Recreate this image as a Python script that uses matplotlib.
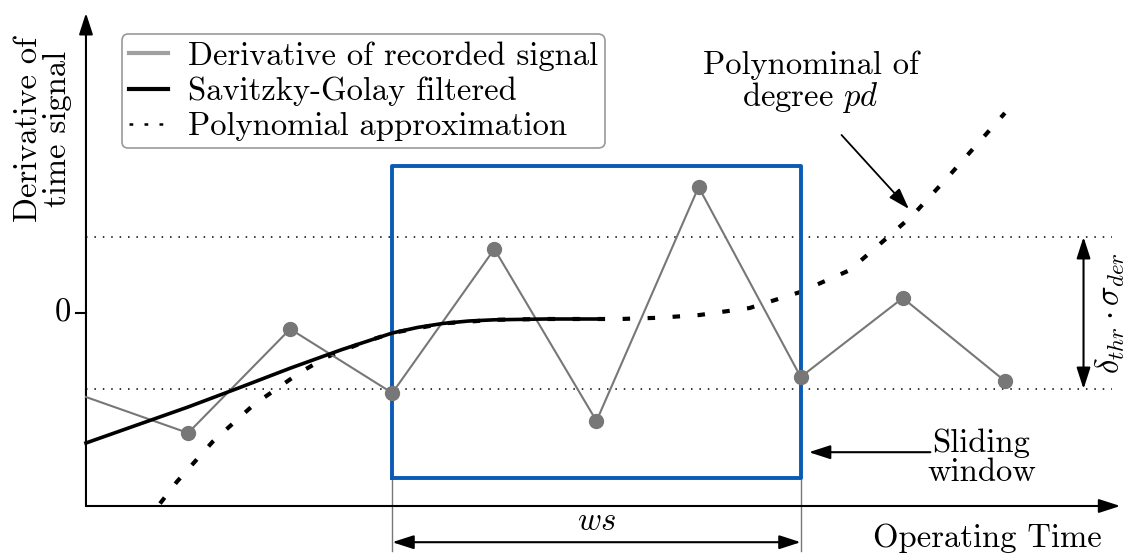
import matplotlib.pyplot as plt
import numpy as np
from matplotlib.lines import Line2D
from matplotlib.patches import Rectangle

plt.rcParams['font.family'] = ['cmr10', 'DejaVu Serif']
plt.rcParams['mathtext.fontset'] = 'cm'
plt.rcParams['axes.unicode_minus'] = False

# recorded derivative samples (time step, value)
sample_t = [0, 1, 2, 3, 4, 5, 6, 7, 8, 9]
sample_y = [-2.1, -3.0, -0.4, -2.0, 1.6, -2.7, 3.15, -1.6, 0.375, -1.7]

# Savitzky-Golay filtered curve
sg_t = [0.0, 0.5, 1.0, 1.5, 2.0, 2.5, 3.0, 3.25, 3.5, 3.75, 4.0, 4.5, 5.0]
sg_y = [-3.25, -2.8, -2.35, -1.87, -1.38, -0.92, -0.5, -0.36, -0.26, -0.2, -0.17, -0.15, -0.15]

# polynomial approximation
poly_t = [0.6, 0.705, 0.89, 1.24, 1.64, 2.10, 2.36, 2.7, 3.0, 3.5, 4.0, 4.5, 5.0, 5.23,
          5.6, 6.01, 6.5, 6.99, 7.48, 7.9, 8.1, 8.46, 9.0]
poly_y = [-5.3, -4.83, -4.22, -3.22, -2.3, -1.48, -1.1, -0.75, -0.5, -0.26, -0.17, -0.15,
          -0.15, -0.15, -0.12, -0.05, 0.125, 0.52, 1.07, 2.0, 2.45, 3.45, 5.0]

threshold = 1.9
window = (3, 7)
window_y = (-4.125, 3.675)

x_lo, x_hi = -0.842, 10.186
y_lo, y_hi = -6.1, 7.825
x_axis_y = -4.825
x_end = 10.13
y_top = 7.5

FS = 23.5

fig = plt.figure(figsize=(11.26, 5.57), dpi=100)
ax = fig.add_axes([0, 0, 1, 1])
ax.set_xlim(x_lo, x_hi)
ax.set_ylim(y_lo, y_hi)
ax.axis('off')

# threshold band
for yv in (threshold, -threshold):
    ax.plot([0, 10.05], [yv, yv], color='black', lw=1.1, ls=(0, (1, 4.5)), zorder=1)

# sliding window
ax.plot([window[0], window[1], window[1], window[0], window[0]],
        [window_y[0], window_y[0], window_y[1], window_y[1], window_y[0]],
        color='#0a5bb5', lw=2.8, zorder=4)
for xv in window:
    ax.plot([xv, xv], [window_y[0], -5.95], color='#777777', lw=1.0, zorder=2)

# polynomial, clipped at the time axis
poly_line, = ax.plot(poly_t, poly_y, color='black', lw=3.0, ls=(0, (1.8, 4.2)), zorder=3)
poly_line.set_clip_path(Rectangle((0, x_axis_y), 11, 14, transform=ax.transData))

ax.plot(sample_t, sample_y, color='#777777', lw=1.5, zorder=5)
ax.plot(sample_t[1:], sample_y[1:], 'o', color='#777777', ms=10, zorder=6)
ax.plot(sg_t, sg_y, color='black', lw=2.6, zorder=5)

# axes arrows
head = '-|>,head_length=1.3,head_width=0.42'
arrow = dict(arrowstyle=head, color='black', lw=1.5, shrinkA=0, shrinkB=0)
ax.annotate('', xy=(x_end, x_axis_y), xytext=(0, x_axis_y), arrowprops=arrow)
ax.annotate('', xy=(0, y_top), xytext=(0, x_axis_y), arrowprops=arrow)
ax.plot([-0.1, 0], [0, 0], color='black', lw=1.5)
ax.text(-0.15, 0, '0', ha='right', va='center', fontsize=FS)

ax.text(-0.42, 4.6, 'Derivative of\ntime signal', rotation=90, ha='center', va='center',
        fontsize=FS, linespacing=1.0)
ax.text(8.83, -5.63, 'Operating Time', ha='center', va='center', fontsize=FS)

# double arrows
dbl = dict(arrowstyle='<|-|>,head_length=1.3,head_width=0.42', color='black', lw=1.5,
           shrinkA=0, shrinkB=0)
ax.annotate('', xy=(window[0], -5.73), xytext=(window[1], -5.73), arrowprops=dbl)
ax.text(5.0, -5.2, '$ws$', ha='center', va='center', fontsize=FS)
ax.annotate('', xy=(9.77, threshold), xytext=(9.77, -threshold), arrowprops=dbl)
ax.text(10.03, 0, r'$\delta_{thr}\cdot\sigma_{der}$', rotation=90, ha='center',
        va='center', fontsize=FS)

ax.annotate('', xy=(7.08, -3.48), xytext=(8.27, -3.48), arrowprops=arrow)
ax.text(8.77, -3.62, 'Sliding\nwindow', ha='center', va='center', fontsize=FS,
        linespacing=1.0)
one = dict(arrowstyle=head, color='black', lw=1.3, shrinkA=0, shrinkB=0)
ax.annotate('', xy=(8.06, 2.6), xytext=(7.4, 4.45), arrowprops=one)
ax.text(7.1, 5.75, 'Polynominal of\ndegree $pd$', ha='center', va='center', fontsize=FS,
        linespacing=1.0)

handles = [Line2D([], [], color='#a0a0a0', lw=3),
           Line2D([], [], color='black', lw=3),
           Line2D([], [], color='black', lw=1.8, ls=(0, (1.5, 4.5)))]
labels = ['Derivative of recorded signal', 'Savitzky-Golay filtered',
          'Polynomial approximation']
leg = ax.legend(handles, labels, loc='upper left', bbox_to_anchor=(0.108, 0.939),
                borderaxespad=0, fontsize=FS, frameon=True, fancybox=True,
                edgecolor='#999999', handlelength=1.2, handletextpad=0.6,
                labelspacing=0.18, borderpad=0.22, framealpha=1)
leg.get_frame().set_linewidth(1.2)

fig.savefig('out.png', dpi=100)
